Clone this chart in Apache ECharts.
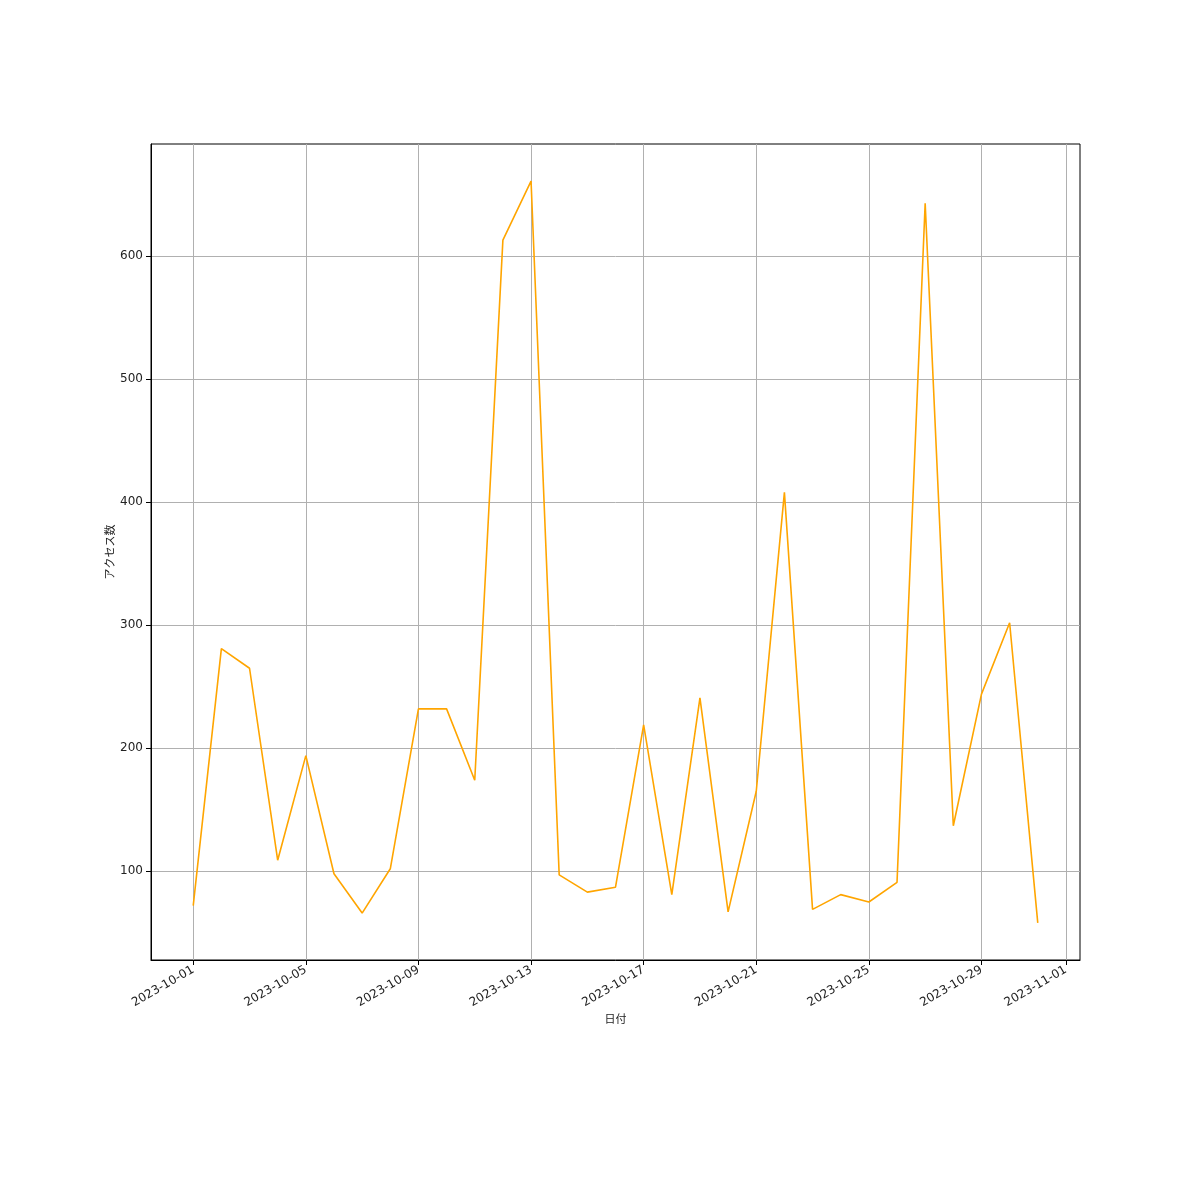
<!DOCTYPE html>
<html><head><meta charset="utf-8">
<script src="https://cdn.jsdelivr.net/npm/echarts@6/dist/echarts.min.js"></script>
<style>html,body{margin:0;padding:0;background:#fff}#c{width:1200px;height:1200px}</style>
</head><body><div id="c"></div>
<script>
const dates = ["2023-10-01","2023-10-02","2023-10-03","2023-10-04","2023-10-05","2023-10-06","2023-10-07","2023-10-08","2023-10-09","2023-10-10","2023-10-11","2023-10-12","2023-10-13","2023-10-14","2023-10-15","2023-10-16","2023-10-17","2023-10-18","2023-10-19","2023-10-20","2023-10-21","2023-10-22","2023-10-23","2023-10-24","2023-10-25","2023-10-26","2023-10-27","2023-10-28","2023-10-29","2023-10-30","2023-10-31"];
const access = [72,281,265,109,194,98,66,102,232,232,174,613,661,97,83,87,219,81,241,67,165,408,69,81,75,91,643,137,244,302,58];
const xTickLabels = ["2023-10-01","2023-10-05","2023-10-09","2023-10-13","2023-10-17","2023-10-21","2023-10-25","2023-10-29","2023-11-01"];
const yTicks = [100,200,300,400,500,600];
const xName = "日付";
const yName = "アクセス数";

const DAY = 86400000;
const toTs = s => { const p = s.split('-').map(Number); return Date.UTC(p[0], p[1]-1, p[2]); };
const fmt = v => { const d = new Date(v); const p = n => String(n).padStart(2,'0'); return d.getUTCFullYear()+'-'+p(d.getUTCMonth()+1)+'-'+p(d.getUTCDate()); };
const xs = dates.map(toTs);
const xTickVals = xTickLabels.map(toTs);
const xMin = xs[0] - 1.5*DAY, xMax = xs[xs.length-1] + 1.5*DAY;
const yMinD = Math.min(...access), yMaxD = Math.max(...access);
const yPad = (yMaxD - yMinD) * 0.05;

const font = "'DejaVu Sans','Noto Sans CJK JP',sans-serif";
const chart = echarts.init(document.getElementById('c'), null, {renderer:'canvas'});
chart.setOption({
  animation:false,
  backgroundColor:'#fff',
  grid:{left:151, top:144, width:929, height:816, show:true, borderColor:'#000', borderWidth:1},
  xAxis:{
    type:'value', min:xMin, max:xMax,
    name:xName, nameLocation:'middle', nameGap:55, nameMoveOverlap:false,
    nameTextStyle:{fontFamily:font, fontSize:11, color:'#222'},
    axisLine:{show:true, lineStyle:{color:'#000', width:1}},
    axisTick:{show:true, length:5, customValues:xTickVals, lineStyle:{color:'#000'}},
    axisLabel:{customValues:xTickVals, rotate:30, formatter:v=>fmt(v), fontFamily:font, fontSize:12, color:'#222', margin:9},
    splitLine:{show:true, lineStyle:{color:'#b0b0b0', width:1}}
  },
  yAxis:{
    type:'value', min:yMinD - yPad, max:yMaxD + yPad,
    name:yName, nameLocation:'middle', nameGap:34, nameRotate:90, nameMoveOverlap:false,
    nameTextStyle:{fontFamily:font, fontSize:11, color:'#222'},
    axisLine:{show:true, lineStyle:{color:'#000', width:1}},
    axisTick:{show:true, length:5, customValues:yTicks, lineStyle:{color:'#000'}},
    axisLabel:{customValues:yTicks, fontFamily:font, fontSize:12, color:'#222', margin:8},
    splitLine:{show:true, lineStyle:{color:'#b0b0b0', width:1}}
  },
  series:[{
    type:'line', data:xs.map((x,i)=>[x, access[i]]),
    showSymbol:false, symbol:'none',
    lineStyle:{color:'#FFA500', width:1.6}, itemStyle:{color:'#FFA500'}
  }]
});
</script></body></html>
